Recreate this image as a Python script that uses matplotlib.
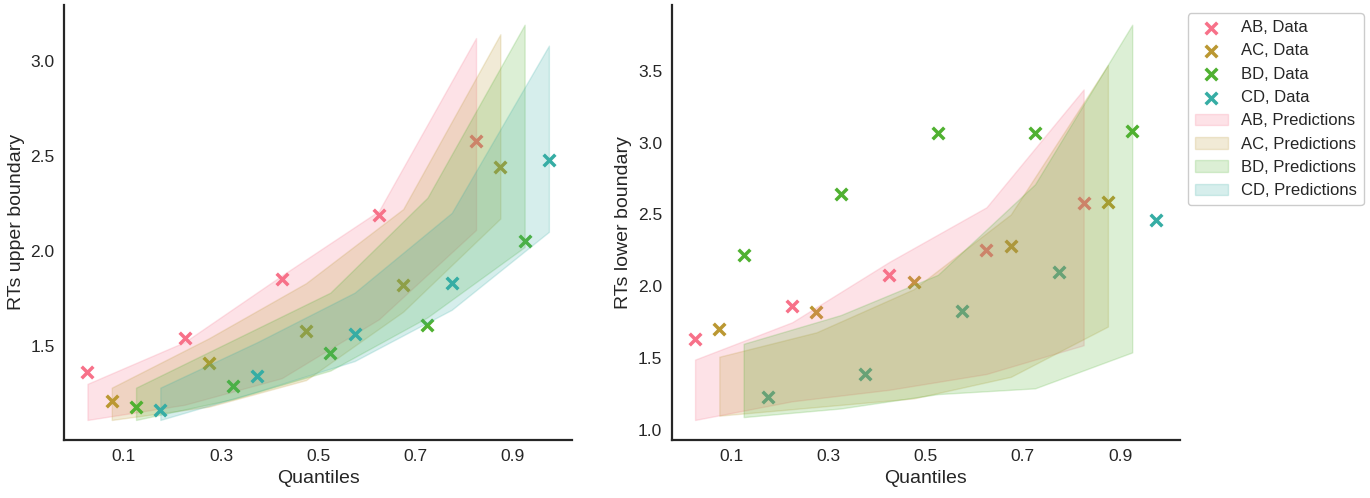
import matplotlib

matplotlib.use("Agg")
import matplotlib.pyplot as plt
import numpy as np
import seaborn as sns

# Conditions and quantiles
conditions = ["AB", "AC", "BD", "CD"]
quantiles = np.array([0.1, 0.3, 0.5, 0.7, 0.9])
offsets = np.array([-0.075, -0.025, 0.025, 0.075])

# Upper boundary: observed RT quantiles
upper_data = {
    "AB": [1.36, 1.54, 1.85, 2.19, 2.58],
    "AC": [1.21, 1.41, 1.58, 1.82, 2.44],
    "BD": [1.18, 1.29, 1.46, 1.61, 2.05],
    "CD": [1.16, 1.34, 1.56, 1.83, 2.48],
}
# Upper boundary: prediction intervals
upper_pred_lo = {
    "AB": [1.11, 1.19, 1.33, 1.64, 2.11],
    "AC": [1.11, 1.18, 1.32, 1.68, 2.17],
    "BD": [1.11, 1.22, 1.37, 1.65, 2.02],
    "CD": [1.11, 1.26, 1.42, 1.69, 2.10],
}
upper_pred_hi = {
    "AB": [1.30, 1.52, 1.87, 2.21, 3.12],
    "AC": [1.28, 1.54, 1.83, 2.22, 3.14],
    "BD": [1.28, 1.53, 1.78, 2.28, 3.19],
    "CD": [1.28, 1.52, 1.78, 2.20, 3.08],
}

# Lower boundary: observed RT quantiles
lower_data = {
    "AB": [1.63, 1.86, 2.08, 2.25, 2.58],
    "AC": [1.70, 1.82, 2.03, 2.28, 2.59],
    "BD": [2.22, 2.64, 3.07, 3.07, 3.08],
    "CD": [1.23, 1.39, 1.83, 2.10, 2.46],
}
# Lower boundary: prediction intervals (no CD band)
lower_pred_lo = {
    "AB": [1.07, 1.20, 1.28, 1.39, 1.59],
    "AC": [1.10, 1.16, 1.22, 1.37, 1.72],
    "BD": [1.09, 1.15, 1.25, 1.29, 1.54],
    "CD": [np.nan] * 5,
}
lower_pred_hi = {
    "AB": [1.49, 1.75, 2.17, 2.55, 3.37],
    "AC": [1.51, 1.68, 1.98, 2.50, 3.54],
    "BD": [1.60, 1.80, 2.08, 2.71, 3.82],
    "CD": [np.nan] * 5,
}

sns.set_style("white")
plt.rcParams["font.family"] = ["Liberation Sans", "DejaVu Sans"]
colors = sns.color_palette("husl", 6)[:4]

fig, axes = plt.subplots(1, 2, figsize=(13.7, 4.98), dpi=100)
fig.subplots_adjust(left=0.047, right=0.861, bottom=0.117, top=0.99, wspace=0.197)


def draw_data(ax, data, i, cond):
    ax.scatter(quantiles + offsets[i], data[cond], marker="x", s=70,
               linewidths=2.5, color=colors[i], label=f"{cond}, Data")


def draw_band(ax, lo, hi, i, cond):
    ax.fill_between(quantiles + offsets[i], lo[cond], hi[cond],
                    color=colors[i], alpha=0.2, label=f"{cond}, Predictions")


# Left: each condition's data then its band
ax = axes[0]
for i, cond in enumerate(conditions):
    draw_data(ax, upper_data, i, cond)
    draw_band(ax, upper_pred_lo, upper_pred_hi, i, cond)
ax.set_ylabel("RTs upper boundary", fontsize=14)

# Right: all data first, then all bands
ax = axes[1]
for i, cond in enumerate(conditions):
    draw_data(ax, lower_data, i, cond)
for i, cond in enumerate(conditions):
    draw_band(ax, lower_pred_lo, lower_pred_hi, i, cond)
ax.set_ylabel("RTs lower boundary", fontsize=14)

for ax in axes:
    ax.set_xticks(quantiles)
    ax.set_xticklabels([f"{q:.1f}" for q in quantiles])
    ax.set_xlabel("Quantiles", fontsize=14)
    ax.tick_params(labelsize=12.5)
    for side in ["left", "bottom"]:
        ax.spines[side].set_linewidth(1.6)
        ax.spines[side].set_color("#262626")
    sns.despine(ax=ax)

axes[1].legend(loc="upper left", bbox_to_anchor=(1.0, 1.0), fontsize=12,
               scatterpoints=1, framealpha=1)

fig.savefig("out.png", dpi=100)
